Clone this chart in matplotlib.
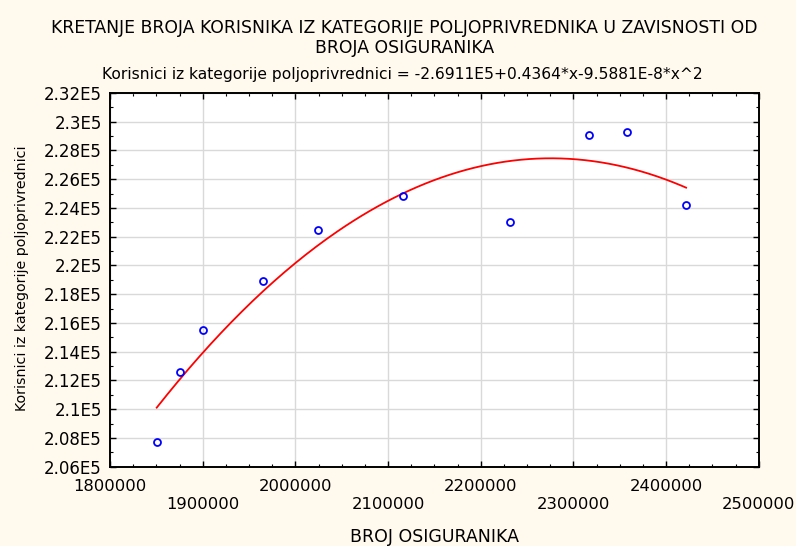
import matplotlib
matplotlib.use("Agg")
import matplotlib.pyplot as plt
import numpy as np
from matplotlib.ticker import FuncFormatter, MultipleLocator

# podaci ocitani sa grafika
broj_osiguranika = [1850400, 1875800, 1900000, 1964700, 2024100,
                    2115800, 2231800, 2316700, 2357400, 2421700]
korisnici_poljoprivrednici = [207740, 212600, 215540, 218890, 222480,
                              224840, 223010, 229100, 229310, 224220]

# koeficijenti kvadratnog fita iz podnaslova
b0, b1, b2 = -2.6911e5, 0.4364, -9.5881e-8

x_ticks = [1800000, 1900000, 2000000, 2100000, 2200000, 2300000, 2400000, 2500000]

plt.rcParams["font.family"] = ["DejaVu Sans"]

fig = plt.figure(figsize=(7.96, 5.46), dpi=100, facecolor="#FFF9EE")
ax = fig.add_axes([0.1382, 0.1452, 0.8149, 0.6845])
ax.set_facecolor("white")

xs = np.linspace(min(broj_osiguranika), max(broj_osiguranika), 200)
ax.plot(xs, b0 + b1 * xs + b2 * xs ** 2, color="red", lw=1.3, zorder=3)
ax.plot(broj_osiguranika, korisnici_poljoprivrednici, "o", mfc="none",
        mec="blue", mew=1.3, ms=5, zorder=4)

ax.set_xlim(1800000, 2500000)
ax.set_ylim(206000, 232000)
ax.set_xticks(x_ticks)
ax.xaxis.set_minor_locator(MultipleLocator(25000))
ax.yaxis.set_major_locator(MultipleLocator(2000))
ax.yaxis.set_minor_locator(MultipleLocator(1000))

ax.set_xticklabels([("\n" if i % 2 else "") + str(v) for i, v in enumerate(x_ticks)],
                   fontsize=11.8, linespacing=1.22)
ax.yaxis.set_major_formatter(FuncFormatter(lambda v, p: f"{round(v / 1e5, 2):g}E5"))

ax.tick_params(which="both", direction="in", top=True, right=True, color="black")
ax.tick_params(which="major", length=4, width=1)
ax.tick_params(which="minor", length=2, width=0.8)
ax.tick_params(axis="x", which="major", pad=9)
ax.tick_params(axis="y", which="major", pad=6, labelsize=12)

ax.grid(True, which="major", color="#d9d9d9", lw=1)
ax.set_axisbelow(True)
for s in ax.spines.values():
    s.set_linewidth(1.4)
    s.set_color("black")

fig.text(0.508, 1 - 28 / 546, "KRETANJE BROJA KORISNIKA IZ KATEGORIJE POLJOPRIVREDNIKA U ZAVISNOSTI OD",
         ha="center", va="center", fontsize=12.4)
fig.text(0.508, 1 - 48 / 546, "BROJA OSIGURANIKA", ha="center", va="center", fontsize=12.4)
fig.text(0.505, 1 - 74 / 546,
         "Korisnici iz kategorije poljoprivrednici = -2.6911E5+0.4364*x-9.5881E-8*x^2",
         ha="center", va="center", fontsize=11.2)
fig.text(434 / 796, 1 - 537 / 546, "BROJ OSIGURANIKA", ha="center", va="center", fontsize=12.5)
fig.text(22 / 796, 1 - 278 / 546, "Korisnici iz kategorije poljoprivrednici",
         ha="center", va="center", rotation=90, fontsize=10.3)

fig.savefig("out.png", dpi=100, facecolor=fig.get_facecolor())
